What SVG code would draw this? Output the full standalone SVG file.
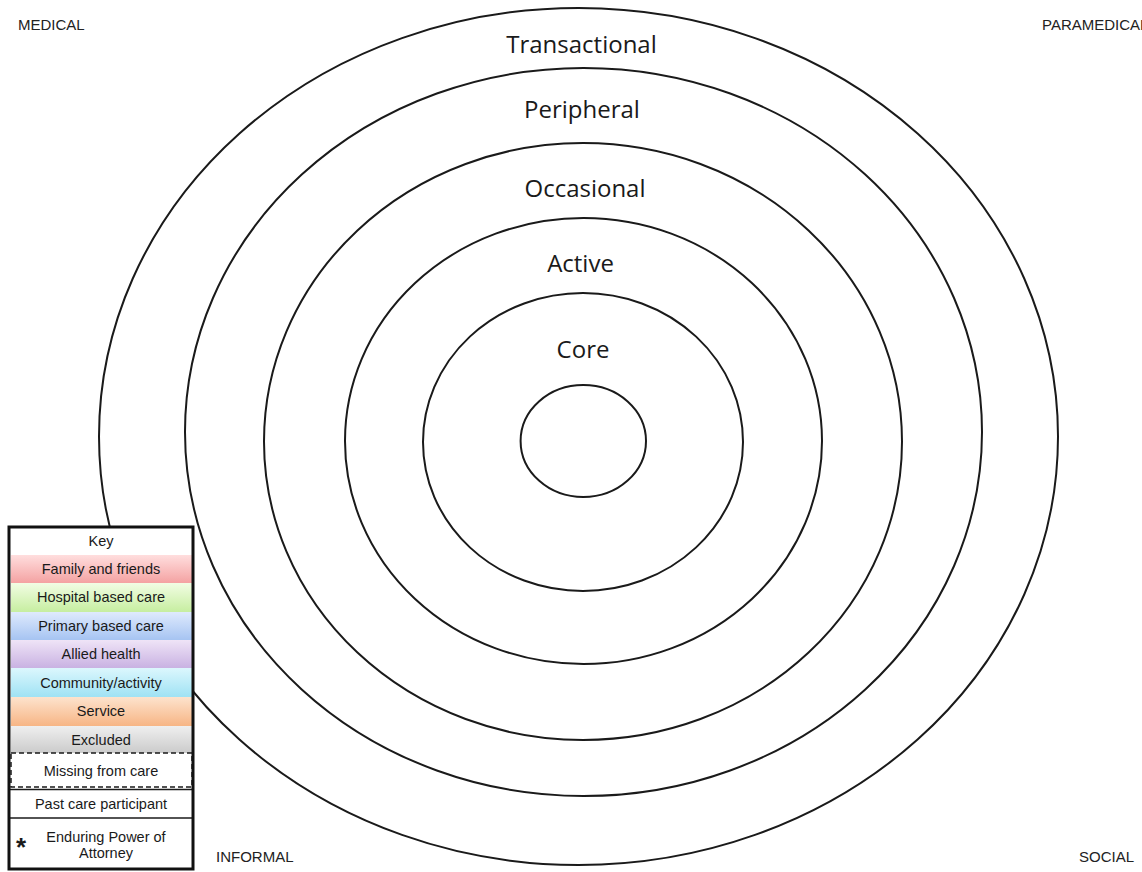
<svg xmlns="http://www.w3.org/2000/svg" width="1142" height="872" viewBox="0 0 1142 872">
<style>
.ring{fill:none;stroke:#1a1a1a;stroke-width:2}
.rl{font-family:"Open Sans","Noto Sans",sans-serif;font-size:24px;fill:#1a1a1a;text-anchor:middle}
.corner{font-family:"Liberation Sans",Arial,sans-serif;font-size:15px;fill:#222}
.kt{font-family:"Liberation Sans",Arial,sans-serif;font-size:14.5px;fill:#1a1a1a;text-anchor:middle}
.row{stroke:none}
</style>
<defs>
<linearGradient id="gF" x1="0" y1="0" x2="0" y2="1"><stop offset="0" stop-color="#ffdede"/><stop offset="1" stop-color="#f4a2a2"/></linearGradient>
<linearGradient id="gH" x1="0" y1="0" x2="0" y2="1"><stop offset="0" stop-color="#f2fde4"/><stop offset="1" stop-color="#c6eea0"/></linearGradient>
<linearGradient id="gP" x1="0" y1="0" x2="0" y2="1"><stop offset="0" stop-color="#dfeafd"/><stop offset="1" stop-color="#a6c4f2"/></linearGradient>
<linearGradient id="gA" x1="0" y1="0" x2="0" y2="1"><stop offset="0" stop-color="#efe4f7"/><stop offset="1" stop-color="#c9b2e2"/></linearGradient>
<linearGradient id="gC" x1="0" y1="0" x2="0" y2="1"><stop offset="0" stop-color="#dcf7fd"/><stop offset="1" stop-color="#9fe2f4"/></linearGradient>
<linearGradient id="gS" x1="0" y1="0" x2="0" y2="1"><stop offset="0" stop-color="#fde3cd"/><stop offset="1" stop-color="#f7b585"/></linearGradient>
<linearGradient id="gE" x1="0" y1="0" x2="0" y2="1"><stop offset="0" stop-color="#efefef"/><stop offset="1" stop-color="#cbcbcb"/></linearGradient>
</defs>
<rect x="0" y="0" width="1142" height="872" fill="#ffffff"/>

<g id="rings">
<ellipse id="ring-transactional" class="ring" cx="578.5" cy="436.5" rx="479.5" ry="428.5"/>
<ellipse id="ring-peripheral" class="ring" cx="583.5" cy="432" rx="398.5" ry="364"/>
<ellipse id="ring-occasional" class="ring" cx="583" cy="441.5" rx="319" ry="298.5"/>
<ellipse id="ring-active" class="ring" cx="583.5" cy="441" rx="238.5" ry="223"/>
<ellipse id="ring-core" class="ring" cx="583" cy="442" rx="160" ry="149"/>
<ellipse id="ring-centre" class="ring" cx="583.3" cy="441" rx="62.7" ry="56"/>
</g>

<g id="ring-labels">
<text class="rl" x="581.5" y="53">Transactional</text>
<text class="rl" x="582" y="118">Peripheral</text>
<text class="rl" x="585" y="197">Occasional</text>
<text class="rl" x="580.5" y="272">Active</text>
<text class="rl" x="583" y="358">Core</text>
</g>

<g id="corners">
<text class="corner" x="18" y="30">MEDICAL</text>
<text class="corner" x="1042" y="30">PARAMEDICAL</text>
<text class="corner" x="216" y="862">INFORMAL</text>
<text class="corner" x="1079" y="862">SOCIAL</text>
</g>

<g id="key">
<rect x="9" y="527" width="184" height="342" fill="#ffffff" stroke="none"/>
<rect class="row" x="11" y="555" width="181" height="28" fill="url(#gF)"/>
<rect class="row" x="11" y="583" width="181" height="29" fill="url(#gH)"/>
<rect class="row" x="11" y="612" width="181" height="28" fill="url(#gP)"/>
<rect class="row" x="11" y="640" width="181" height="28" fill="url(#gA)"/>
<rect class="row" x="11" y="668" width="181" height="29" fill="url(#gC)"/>
<rect class="row" x="11" y="697" width="181" height="29" fill="url(#gS)"/>
<rect class="row" x="11" y="726" width="181" height="27" fill="url(#gE)"/>
<rect x="11" y="753" width="181" height="34" fill="#ffffff" stroke="#1a1a1a" stroke-width="1.5" stroke-dasharray="5,3"/>
<line x1="9" y1="789.5" x2="193" y2="789.5" stroke="#1a1a1a" stroke-width="1.5"/>
<line x1="9" y1="818" x2="193" y2="818" stroke="#1a1a1a" stroke-width="1.5"/>
<rect x="9" y="527" width="184" height="342" fill="none" stroke="#111" stroke-width="3"/>
<text class="kt" x="101" y="546">Key</text>
<text class="kt" x="101" y="574">Family and friends</text>
<text class="kt" x="101" y="602">Hospital based care</text>
<text class="kt" x="101" y="631">Primary based care</text>
<text class="kt" x="101" y="659">Allied health</text>
<text class="kt" x="101" y="688">Community/activity</text>
<text class="kt" x="101" y="716">Service</text>
<text class="kt" x="101" y="745">Excluded</text>
<text class="kt" x="101" y="776">Missing from care</text>
<text class="kt" x="101" y="809">Past care participant</text>
<text class="kt" x="21" y="856" style="font-size:26px;font-weight:bold">*</text>
<text class="kt" x="106" y="842">Enduring  Power of</text>
<text class="kt" x="106" y="858">Attorney</text>
</g>
</svg>
